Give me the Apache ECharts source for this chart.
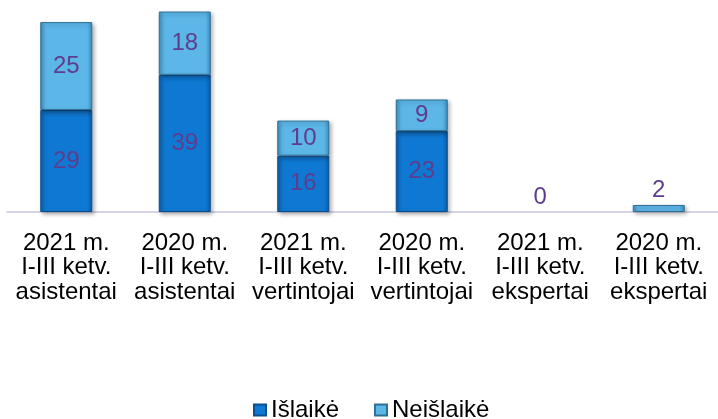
<!DOCTYPE html>
<html><head><meta charset="utf-8">
<script src="https://cdn.jsdelivr.net/npm/echarts@6/dist/echarts.min.js"></script>
<style>html,body{margin:0;padding:0;background:#fff}#c{width:718px;height:419px}</style>
</head><body><div id="c"></div>
<script>
var categories = ['2021 m.\nI-III ketv.\nasistentai','2020 m.\nI-III ketv.\nasistentai','2021 m.\nI-III ketv.\nvertintojai','2020 m.\nI-III ketv.\nvertintojai','2021 m.\nI-III ketv.\nekspertai','2020 m.\nI-III ketv.\nekspertai'];
var islaike = [29, 39, 16, 23, 0, 0];
var neislaike = [25, 18, 10, 9, 0, 2];
var seriesNames = ['Išlaikė', 'Neišlaikė'];

var labelColor = '#5e3d8e';
var font = 'Liberation Sans, Arial';
function grad(edge, mid) {
  return new echarts.graphic.LinearGradient(0, 0, 1, 0, [
    {offset: 0, color: edge}, {offset: 0.1, color: mid}, {offset: 0.9, color: mid}, {offset: 1, color: edge}
  ]);
}
var darkFill = grad('#0a5ea8', '#0f78d2');
var lightFill = grad('#3e8fc0', '#5cb6e8');
var hidden = {color: 'rgba(0,0,0,0)', borderWidth: 0, shadowBlur: 0, shadowOffsetX: 0, shadowOffsetY: 0, shadowColor: 'rgba(0,0,0,0)'};

var islaikeData = islaike.map(function (v) {
  var d = {value: v};
  if (v === 0) { d.label = {show: false}; d.itemStyle = hidden; }
  return d;
});
var neislaikeData = neislaike.map(function (v, i) {
  var d = {value: v};
  if (v === 0) { d.itemStyle = hidden; }
  if (v <= 2) d.label = {show: true, position: 'top', distance: 3};
  return d;
});

var chart = echarts.init(document.getElementById('c'), null, {renderer: 'canvas'});
chart.setOption({
  animation: false,
  grid: {left: 7, right: -3, top: 1, height: 211, containLabel: false},
  xAxis: {
    type: 'category', data: categories,
    axisLine: {lineStyle: {color: '#d8d6e6', width: 2}},
    axisTick: {show: false},
    axisLabel: {color: '#000', fontSize: 24, fontFamily: font, lineHeight: 24.5, margin: 19, interval: 0}
  },
  yAxis: {type: 'value', min: 0, max: 60, show: false, splitLine: {show: false}},
  legend: {
    top: 393, left: 248, itemWidth: 12, itemHeight: 11, itemGap: 35,
    textStyle: {fontSize: 24, fontFamily: font, color: '#000'},
    data: [{name: seriesNames[0], icon: 'rect'}, {name: seriesNames[1], icon: 'rect'}]
  },
  series: [
    {name: seriesNames[0], type: 'bar', stack: 's', data: islaikeData, barWidth: 52,
      itemStyle: {color: darkFill, borderColor: '#0a4f8f', borderWidth: 1, shadowColor: 'rgba(0,0,0,0.3)', shadowBlur: 4, shadowOffsetX: 2, shadowOffsetY: 2},
      label: {show: true, position: 'inside', color: labelColor, fontSize: 24, fontFamily: font}},
    {name: seriesNames[1], type: 'bar', stack: 's', data: neislaikeData, barWidth: 52,
      itemStyle: {color: lightFill, borderColor: '#2f6f95', borderWidth: 1, shadowColor: 'rgba(0,0,0,0.3)', shadowBlur: 4, shadowOffsetX: 2, shadowOffsetY: 2},
      label: {show: true, position: 'inside', color: labelColor, fontSize: 24, fontFamily: font}}
  ]
});
</script></body></html>
